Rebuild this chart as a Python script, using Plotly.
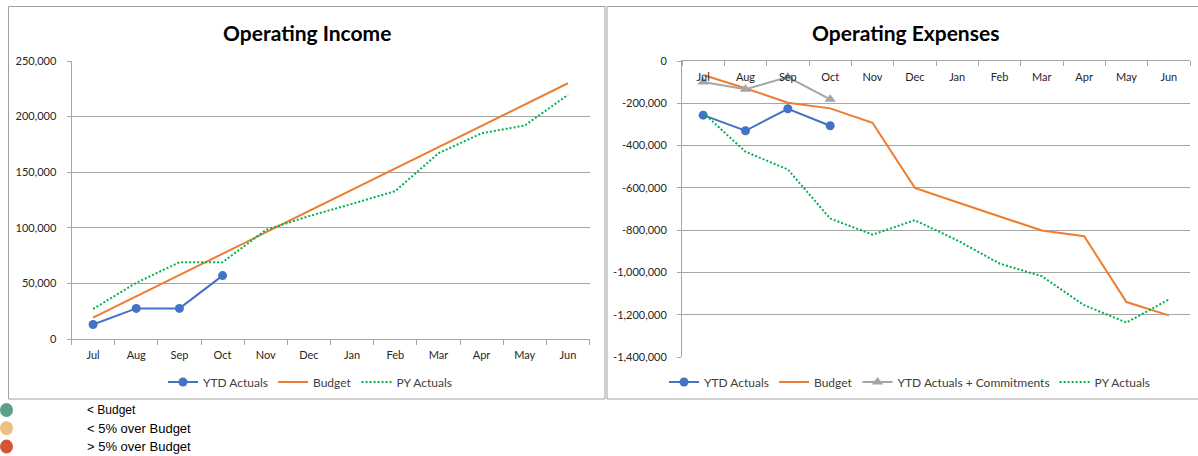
import plotly.graph_objects as go

W, H = 1198, 456

months = ["Jul", "Aug", "Sep", "Oct", "Nov", "Dec", "Jan", "Feb", "Mar", "Apr", "May", "Jun"]

# Operating Income
inc_ytd = [13000, 27500, 27500, 57000]
inc_budget = [19167, 38333, 57500, 76667, 95833, 115000, 134167, 153333, 172500, 191667, 210833, 230000]
inc_py = [27000, 50500, 69000, 69000, 98000, 110500, 121500, 133000, 167000, 185000, 192000, 219500]

# Operating Expenses
exp_ytd = [-256000, -330000, -226000, -306000]
exp_budget = [-66000, -129000, -197000, -224000, -292000, -600000, -668000, -735000, -802000, -829000, -1140000, -1203000]
exp_ytd_commit = [-99000, -134000, -76000, -181000]
exp_py = [-245000, -429000, -513000, -745000, -821000, -753000, -848000, -958000, -1018000, -1155000, -1237000, -1128000]

inc_yticks = [0, 50000, 100000, 150000, 200000, 250000]
exp_yticks = [0, -200000, -400000, -600000, -800000, -1000000, -1200000, -1400000]

status_labels = ["< Budget", "< 5% over Budget", "> 5% over Budget"]
status_colors = ["#5E9E8C", "#EAC282", "#D4563A"]

BLUE, ORANGE, GRAY, GREEN = "#4472C4", "#ED7D31", "#A5A5A5", "#00B050"
FONT = "Lato"
GRID = "#A6A6A6"
DOT = "2px,2px"


def px(x):
    return x / W


def py(y):
    return 1 - y / H


fig = go.Figure()
idx = list(range(len(months)))
n = len(months)

# ---- Left chart ----
fig.add_trace(go.Scatter(x=idx[:len(inc_ytd)], y=inc_ytd, name="YTD Actuals", mode="lines+markers",
                         line=dict(color=BLUE, width=2), marker=dict(size=9, color=BLUE),
                         xaxis="x", yaxis="y", legend="legend"))
fig.add_trace(go.Scatter(x=idx, y=inc_budget, name="Budget", mode="lines",
                         line=dict(color=ORANGE, width=2), xaxis="x", yaxis="y", legend="legend"))
fig.add_trace(go.Scatter(x=idx, y=inc_py, name="PY Actuals", mode="lines",
                         line=dict(color=GREEN, width=2, dash=DOT), xaxis="x", yaxis="y", legend="legend"))

# ---- Right chart ----
fig.add_trace(go.Scatter(x=idx[:len(exp_ytd)], y=exp_ytd, name="YTD Actuals", mode="lines+markers",
                         line=dict(color=BLUE, width=2), marker=dict(size=9, color=BLUE),
                         xaxis="x2", yaxis="y2", legend="legend2"))
fig.add_trace(go.Scatter(x=idx, y=exp_budget, name="Budget", mode="lines",
                         line=dict(color=ORANGE, width=2), xaxis="x2", yaxis="y2", legend="legend2"))
fig.add_trace(go.Scatter(x=idx[:len(exp_ytd_commit)], y=exp_ytd_commit, name="YTD Actuals + Commitments",
                         mode="lines+markers", line=dict(color=GRAY, width=2),
                         marker=dict(size=10, color=GRAY, symbol="triangle-up"),
                         xaxis="x2", yaxis="y2", legend="legend2"))
fig.add_trace(go.Scatter(x=idx, y=exp_py, name="PY Actuals", mode="lines",
                         line=dict(color=GREEN, width=2, dash=DOT), xaxis="x2", yaxis="y2", legend="legend2"))

tickfont = dict(family=FONT, size=11, color="#262626")
legfont = dict(family=FONT, size=12, color="#404040")
bounds = [i - 0.5 for i in range(n + 1)]

fig.update_layout(
    width=W, height=H,
    margin=dict(l=0, r=0, t=0, b=0, autoexpand=False),
    paper_bgcolor="white", plot_bgcolor="white",
    xaxis=dict(domain=[px(71.5), px(589.5)], range=[-0.5, n - 0.5], tickvals=idx, ticktext=months,
               ticks="", showline=True, linecolor=GRID, showgrid=False, zeroline=False,
               tickfont=tickfont, anchor="y", automargin=False, ticklabelstandoff=6,
               minor=dict(tickvals=bounds, ticks="outside", ticklen=5, tickcolor=GRID, showgrid=False)),
    yaxis=dict(domain=[py(339), py(61)], range=[0, 250000], tickvals=inc_yticks,
               ticktext=[f"{v:,}" for v in inc_yticks], ticks="outside", ticklen=4, tickcolor=GRID,
               showline=True, linecolor=GRID, showgrid=True, gridcolor=GRID, gridwidth=1,
               zeroline=False, tickfont=tickfont, anchor="x", automargin=False, ticklabelstandoff=8),
    xaxis2=dict(domain=[px(682), px(1190)], range=[-0.5, n - 0.5],
                tickvals=idx, ticktext=months, side="top", ticklabelstandoff=-25,
                ticks="", showline=True, linecolor=GRID, showgrid=False, tickfont=tickfont,
                minor=dict(tickvals=bounds, ticks="inside", ticklen=5, tickcolor=GRID, showgrid=False),
                anchor="y2", zeroline=False, automargin=False),
    yaxis2=dict(domain=[py(357), py(61)], range=[-1400000, 0], tickvals=exp_yticks,
                ticktext=[f"{v:,}" for v in exp_yticks], ticks="outside", ticklen=4, tickcolor=GRID,
                showline=True, linecolor=GRID, showgrid=True, gridcolor=GRID, gridwidth=1,
                zeroline=False, tickfont=tickfont, anchor="x2", automargin=False, ticklabelstandoff=8),
    legend=dict(orientation="h", x=px(310), xanchor="center", y=py(382), yanchor="middle",
                font=legfont, bgcolor="rgba(0,0,0,0)"),
    legend2=dict(orientation="h", x=px(910), xanchor="center", y=py(382), yanchor="middle",
                 font=legfont, bgcolor="rgba(0,0,0,0)"),
    showlegend=True,
)

# titles
fig.add_annotation(text="<b>Operating Income</b>", x=px(307), y=py(32), xref="paper", yref="paper",
                   xanchor="center", yanchor="middle",
                   showarrow=False, font=dict(family=FONT, size=21, color="black"))
fig.add_annotation(text="<b>Operating Expenses</b>", x=px(905), y=py(32), xref="paper", yref="paper",
                   xanchor="center", yanchor="middle",
                   showarrow=False, font=dict(family=FONT, size=21, color="black"))

# panel borders
fig.add_shape(type="rect", xref="paper", yref="paper", x0=px(8.5), x1=px(605), y0=py(399), y1=py(6.5),
              line=dict(color="#A0A0A0", width=1), layer="below")
fig.add_shape(type="rect", xref="paper", yref="paper", x0=px(607), x1=px(1210), y0=py(399), y1=py(6.5),
              line=dict(color="#A0A0A0", width=1), layer="below")

# status key
for i, (lab, col) in enumerate(zip(status_labels, status_colors)):
    yc = 410 + i * 18.3
    fig.add_shape(type="circle", xref="paper", yref="paper", x0=px(0), x1=px(13),
                  y0=py(yc + 7), y1=py(yc - 7), fillcolor=col, line=dict(color=col, width=0))
    fig.add_annotation(text=lab, x=px(85), y=py(yc), xref="paper", yref="paper", xanchor="left",
                       yanchor="middle", showarrow=False,
                       font=dict(family="Liberation Sans", size=13 if i else 12, color="black"))

fig.write_html("out.html", config={"displayModeBar": False},
               post_script="document.body.style.margin='0';document.body.style.overflow='hidden';")
